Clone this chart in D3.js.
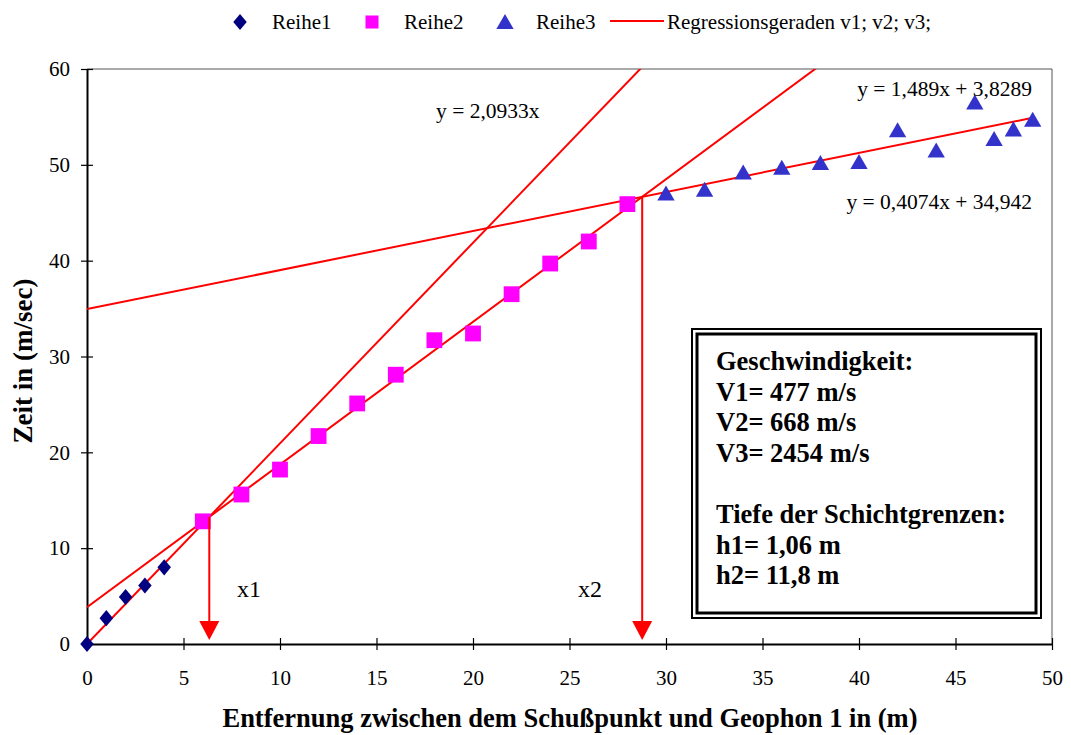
<!DOCTYPE html>
<html>
<head>
<meta charset="utf-8">
<script src="https://cdn.jsdelivr.net/npm/d3@7"></script>
<style>
  body { margin: 0; background: #fff; }
  text { font-family: "Liberation Serif", "Times New Roman", serif; }
</style>
</head>
<body>
<svg id="chart" width="1071" height="735"></svg>
<script>
// data
const reihe1X = [0, 1, 2, 3, 4];
const reihe1Y = [0, 2.7, 4.9, 6.1, 8.0];
const reihe2X = [6, 8, 10, 12, 14, 16, 18, 20, 22, 24, 26, 28];
const reihe2Y = [12.8, 15.6, 18.2, 21.7, 25.1, 28.1, 31.7, 32.4, 36.5, 39.7, 42.0, 45.9];
const reihe3X = [30, 32, 34, 36, 38, 40, 42, 44, 46, 47, 48, 49];
const reihe3Y = [47.0, 47.4, 49.2, 49.7, 50.2, 50.3, 53.6, 51.5, 56.5, 52.7, 53.7, 54.7];

// regression lines: slope, intercept
const regSlope = [2.0933, 1.489, 0.4074];
const regIntercept = [0, 3.8289, 34.942];
const regLabels = ["y = 2,0933x", "y = 1,489x + 3,8289", "y = 0,4074x + 34,942"];

const xTicks = [0, 5, 10, 15, 20, 25, 30, 35, 40, 45, 50];
const yTicks = [0, 10, 20, 30, 40, 50, 60];

const boxLines = ["Geschwindigkeit:", "V1= 477 m/s", "V2= 668 m/s", "V3= 2454 m/s", "",
                  "Tiefe der Schichtgrenzen:", "h1= 1,06 m", "h2= 11,8 m"];

const svg = d3.select("#chart");
const pLeft = 87, pRight = 1052, pTop = 69, pBottom = 644;

const x = d3.scaleLinear().domain([0, 50]).range([pLeft, pRight]);
const y = d3.scaleLinear().domain([0, 60]).range([pBottom, pTop]);

// plot area border (top/right)
svg.append("path")
    .attr("d", `M${pLeft},${pTop}H${pRight}V${pBottom}`)
    .attr("fill", "none").attr("stroke", "#555").attr("stroke-width", 1);

// clip for regression lines
svg.append("clipPath").attr("id", "plot")
  .append("rect").attr("x", pLeft).attr("y", pTop)
  .attr("width", pRight - pLeft).attr("height", pBottom - pTop);

// axes
const yAxis = svg.append("g")
    .attr("transform", `translate(${pLeft},0)`)
    .call(d3.axisLeft(y).tickValues(yTicks).tickSize(6).tickPadding(11).tickSizeOuter(0));
yAxis.selectAll(".tick line").attr("x1", -6).attr("x2", 6);

const xAxis = svg.append("g")
    .attr("transform", `translate(0,${pBottom})`)
    .call(d3.axisBottom(x).tickValues(xTicks).tickSize(6).tickPadding(20).tickSizeOuter(0));
xAxis.selectAll(".tick line").attr("y1", -6).attr("y2", 6);

svg.selectAll(".domain").attr("stroke", "#000").attr("stroke-width", 2);
svg.selectAll(".tick line").attr("stroke", "#000").attr("stroke-width", 1.2);
svg.selectAll(".tick text")
    .attr("font-family", "Liberation Serif").attr("font-size", "21px").attr("fill", "#000");

// regression lines
const regEnd = [50, 50, 49];
const regG = svg.append("g").attr("clip-path", "url(#plot)");
regSlope.forEach((m, i) => {
    regG.append("line")
        .attr("x1", x(0)).attr("y1", y(regIntercept[i]))
        .attr("x2", x(regEnd[i])).attr("y2", y(m * regEnd[i] + regIntercept[i]))
        .attr("stroke", "#ff0000").attr("stroke-width", 2);
});

// markers
const diamond = d3.symbol().type(d3.symbolDiamond).size(75);
const square = d3.symbol().type(d3.symbolSquare).size(250);
const triangle = d3.symbol().type(d3.symbolTriangle).size(130);

svg.selectAll("path.r1").data(reihe1X).enter().append("path")
    .attr("class", "r1")
    .attr("d", diamond)
    .attr("transform", (d, i) => `translate(${x(d)},${y(reihe1Y[i])}) scale(1.45,1)`)
    .attr("fill", "#000080");

svg.selectAll("path.r2").data(reihe2X).enter().append("path")
    .attr("class", "r2")
    .attr("d", square)
    .attr("transform", (d, i) => `translate(${x(d)},${y(reihe2Y[i])})`)
    .attr("fill", "#ff00ff");

svg.selectAll("path.r3").data(reihe3X).enter().append("path")
    .attr("class", "r3")
    .attr("d", triangle)
    .attr("transform", (d, i) => `translate(${x(d)},${y(reihe3Y[i]) + 2})`)
    .attr("fill", "#3333cc");

// arrows at the line intersections
function crossing(a, b) {
    const xi = (regIntercept[b] - regIntercept[a]) / (regSlope[a] - regSlope[b]);
    return [xi, regSlope[a] * xi + regIntercept[a]];
}
const crossings = [crossing(0, 1), crossing(1, 2)];
crossings.forEach(c => {
    const px = x(c[0]);
    svg.append("line")
        .attr("x1", px).attr("y1", y(c[1]))
        .attr("x2", px).attr("y2", pBottom - 20)
        .attr("stroke", "#ff0000").attr("stroke-width", 2);
    svg.append("path")
        .attr("d", `M${px - 10},${pBottom - 23}L${px + 10},${pBottom - 23}L${px},${pBottom - 4}Z`)
        .attr("fill", "#ff0000");
});
svg.append("text").attr("x", 237).attr("y", 597).attr("font-size", "24px").text("x1");
svg.append("text").attr("x", 578).attr("y", 597).attr("font-size", "24px").text("x2");

// equation labels
svg.append("text").attr("x", 436).attr("y", 118).attr("font-size", "21.5px").text(regLabels[0]);
svg.append("text").attr("x", 1032).attr("y", 96).attr("font-size", "21.5px")
    .attr("text-anchor", "end").text(regLabels[1]);
svg.append("text").attr("x", 1032).attr("y", 209).attr("font-size", "21.5px")
    .attr("text-anchor", "end").text(regLabels[2]);

// info box with double border
svg.append("rect").attr("x", 692).attr("y", 329).attr("width", 349).attr("height", 289)
    .attr("fill", "#fff").attr("stroke", "#000").attr("stroke-width", 2);
svg.append("rect").attr("x", 697).attr("y", 334).attr("width", 339).attr("height", 279)
    .attr("fill", "none").attr("stroke", "#000").attr("stroke-width", 3);
svg.append("g").selectAll("text").data(boxLines).enter().append("text")
    .attr("x", 716)
    .attr("y", (d, i) => 370 + i * 30.6)
    .attr("font-size", "26.5px").attr("font-weight", "bold")
    .text(d => d);

// axis titles
svg.append("text")
    .attr("x", 570).attr("y", 727)
    .attr("text-anchor", "middle").attr("font-size", "26.5px").attr("font-weight", "bold")
    .text("Entfernung zwischen dem Schußpunkt und Geophon 1 in (m)");
svg.append("text")
    .attr("transform", "translate(32,361) rotate(-90)")
    .attr("text-anchor", "middle").attr("font-size", "27px").attr("font-weight", "bold")
    .text("Zeit in (m/sec)");

// legend
const lg = svg.append("g");
lg.append("path").attr("d", diamond).attr("transform", "translate(240,22) scale(1.45,1)").attr("fill", "#000080");
lg.append("text").attr("x", 272).attr("y", 29).attr("font-size", "21px").text("Reihe1");
lg.append("path").attr("d", d3.symbol().type(d3.symbolSquare).size(170)).attr("transform", "translate(372,22)").attr("fill", "#ff00ff");
lg.append("text").attr("x", 404).attr("y", 29).attr("font-size", "21px").text("Reihe2");
lg.append("path").attr("d", triangle).attr("transform", "translate(505,24)").attr("fill", "#3333cc");
lg.append("text").attr("x", 536).attr("y", 29).attr("font-size", "21px").text("Reihe3");
lg.append("line").attr("x1", 610).attr("x2", 664).attr("y1", 21).attr("y2", 21)
    .attr("stroke", "#ff0000").attr("stroke-width", 2);
lg.append("text").attr("x", 667).attr("y", 29).attr("font-size", "21px").text("Regressionsgeraden v1; v2; v3;");
</script>
</body>
</html>
